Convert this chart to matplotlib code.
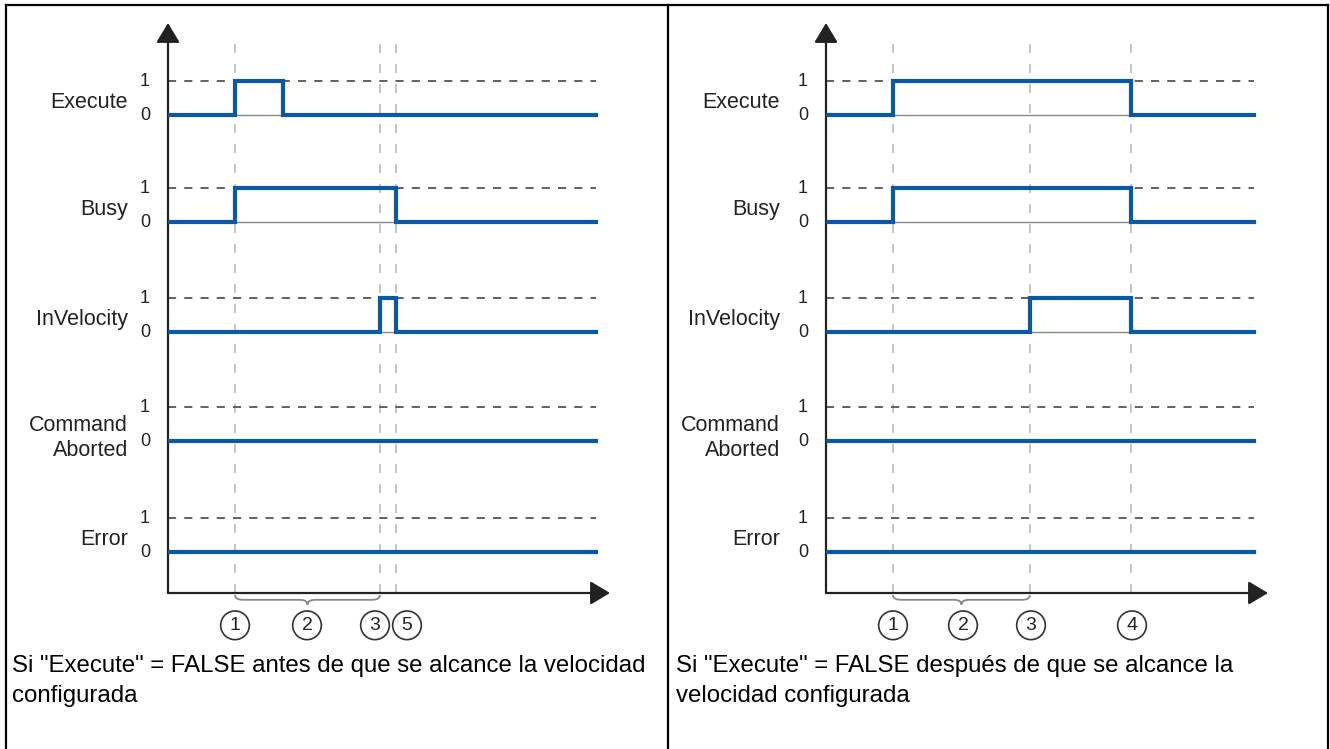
import matplotlib
matplotlib.use('Agg')
import matplotlib.pyplot as plt
from matplotlib.lines import Line2D
from matplotlib.path import Path
from matplotlib.patches import PathPatch

plt.rcParams['font.family'] = ['Liberation Sans', 'DejaVu Sans']

# signal rows (0 level of each row, in axis units)
signals = ['Execute', 'Busy', 'InVelocity', 'Command\nAborted', 'Error']
row_base = [12.85, 9.7, 6.47, 3.26, 0.0]
t_end = 42.8

# high phases (rise, fall) per signal
left_pulses = [[(6.7, 11.5)], [(6.7, 22.8)], [(21.2, 22.8)], [], []]
right_pulses = [[(6.7, 30.5)], [(6.7, 30.5)], [(20.4, 30.5)], [], []]

# vertical event markers
left_events = [6.7, 21.2, 22.8]
right_events = [6.7, 20.4, 30.5]

# circled numbers under the time axis
left_marks = ['1', '2', '3', '5']
left_mark_t = [6.7, 13.9, 20.7, 23.9]
right_marks = ['1', '2', '3', '4']
right_mark_t = [6.7, 13.7, 20.5, 30.6]

left_brace = (6.7, 21.2)
right_brace = (6.7, 20.4)

left_caption = 'Si "Execute" = FALSE antes de que se alcance la velocidad\nconfigurada'
right_caption = 'Si "Execute" = FALSE después de que se alcance la\nvelocidad configurada'

W, H = 1330, 749
BLUE = '#0a58a8'

fig = plt.figure(figsize=(W / 100, H / 100), dpi=100)


def fx(px):
    return px / W


def fy(py):
    return 1 - py / H


def brace(ax, x0, x1, ytop, ybot):
    xm = (x0 + x1) / 2
    ym = (ytop + ybot) / 2
    r = 0.8
    verts = [(x0, ytop), (x0, ym), (x0 + r, ym),
             (xm - r, ym), (xm, ym), (xm, ybot),
             (xm, ym), (xm + r, ym),
             (x1 - r, ym), (x1, ym), (x1, ytop)]
    codes = [Path.MOVETO, Path.CURVE3, Path.CURVE3,
             Path.LINETO, Path.CURVE3, Path.CURVE3,
             Path.CURVE3, Path.CURVE3,
             Path.LINETO, Path.CURVE3, Path.CURVE3]
    ax.add_patch(PathPatch(Path(verts, codes), fc='none', ec='#888888',
                           lw=1.3, clip_on=False))


def panel(ax, pulses, events, marks, mark_t, brc, label_x):
    ax.set_xlim(0, 44.2)
    ax.set_ylim(-1.2, 15.56)
    ax.axis('off')

    # axes with arrows
    ap = dict(arrowstyle='-|>,head_length=0.6,head_width=0.36', mutation_scale=20,
              lw=1.6, color='#222222', shrinkA=0, shrinkB=0)
    ax.annotate('', xy=(44.2, -1.2), xytext=(0, -1.2), arrowprops=ap, annotation_clip=False)
    ax.annotate('', xy=(0, 15.56), xytext=(0, -1.2), arrowprops=ap, annotation_clip=False)

    for t in events:
        ax.plot([t, t], [-1.2, 15.2], color='#bbbbbb', lw=1.2, ls=(0, (5.5, 6.5)), zorder=1)

    for name, b, pl in zip(signals, row_base, pulses):
        ax.plot([0, t_end], [b + 1, b + 1], color='#555555', lw=1.3,
                ls=(0, (4.5, 4.5)), zorder=2)
        xs, ys = [0], [b]
        for r, f in pl:
            ax.plot([r, f], [b, b], color='#888888', lw=1.0, zorder=3)
            xs += [r, r, f, f]
            ys += [b, b + 1, b + 1, b]
        xs.append(t_end)
        ys.append(b)
        ax.plot(xs, ys, color=BLUE, lw=3.0, solid_joinstyle='miter', zorder=4)
        ax.text(-2.3, b + 1, '1', ha='center', va='center', fontsize=13, color='#222222')
        ax.text(-2.3, b, '0', ha='center', va='center', fontsize=13, color='#222222')
        if '\n' in name:
            ax.text(label_x, b + 0.1, name, ha='right', va='center', fontsize=15.5,
                    color='#222222', multialignment='right', linespacing=1.3)
        else:
            ax.text(label_x, b + 0.38, name, ha='right', va='center', fontsize=15.5,
                    color='#222222')

    brace(ax, brc[0], brc[1], -1.26, -1.54)
    for m, t in zip(marks, mark_t):
        ax.text(t, -2.15, m, ha='center', va='center', fontsize=14, color='#222222',
                bbox=dict(boxstyle='circle,pad=0.3', fc='none', ec='#333333', lw=1.2))


ax_l = fig.add_axes([fx(168), fy(593), (610 - 168) / W, (593 - 23) / H])
panel(ax_l, left_pulses, left_events, left_marks, left_mark_t, left_brace, -4.0)

ax_r = fig.add_axes([fx(826), fy(593), (610 - 168) / W, (593 - 23) / H])
panel(ax_r, right_pulses, right_events, right_marks, right_mark_t, right_brace, -4.6)

fig.text(fx(12), fy(681), left_caption, ha='left', va='center', fontsize=17.3,
         linespacing=1.45)
fig.text(fx(676), fy(681), right_caption, ha='left', va='center', fontsize=17.3,
         linespacing=1.45)

# outer frame and divider
for xs, ys in [([6, 6], [5, H]), ([6, 1328], [5, 5]), ([1328, 1328], [5, H]),
               ([668, 668], [5, H])]:
    fig.add_artist(Line2D([fx(x) for x in xs], [fy(y) for y in ys], color='black',
                          lw=1.6, transform=fig.transFigure))

fig.savefig('out.png', dpi=100)
